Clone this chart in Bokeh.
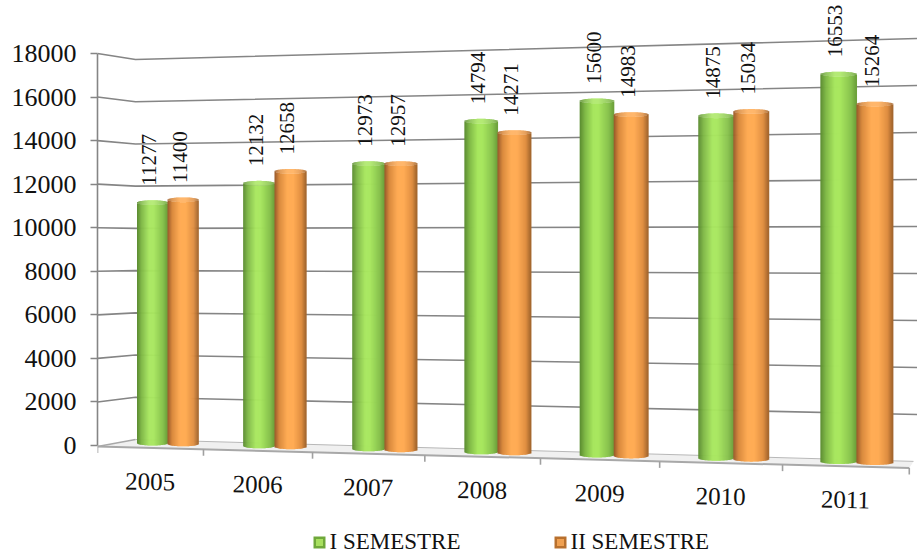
from bokeh.plotting import figure
from bokeh.models import Range1d, LinearAxis, FixedTicker
from bokeh.embed import file_html
from bokeh.resources import INLINE
from bokeh.core.properties import value
import numpy as np

years = ["2005", "2006", "2007", "2008", "2009", "2010", "2011"]
sem1 = [11277, 12132, 12973, 14794, 15600, 14875, 16553]
sem2 = [11400, 12658, 12957, 14271, 14983, 15034, 15264]
y_ticks = list(range(0, 18001, 2000))
series_names = ["I SEMESTRE", "II SEMESTRE"]

FONT = "Liberation Serif"
GRID = "#858585"
K = 18000 / 392.0


def Y(sy):
    """page pixel row -> value on the left axis"""
    return (445 - np.asarray(sy, dtype=float)) * K


def bar_x(t):
    return (167 + 103.3 * t) / (1 - 0.01346 * t)


def front_x(t):
    return (97 + 103.1 * t) / (1 - 0.01416 * t)


def front_y(x):
    return 446 + (x - 97) * 21.5 / 812


def back_y(x, v):
    return 439 + (x - 135) * 22 / 782 - v / 18000 * (380 + (x - 135) * 43 / 782)


def bar_base(x):
    return 445 + (x - 152) * 18.5 / 686


def bar_scale(x):
    return 0.02175 + (x - 152) * 0.00195 / 686


p = figure(width=917, height=554, output_backend="svg", toolbar_location=None,
           x_range=Range1d(97, 917), y_range=Range1d(float(Y(554)), float(Y(0))),
           x_axis_location=None, y_axis_location=None,
           min_border_left=97, min_border_right=0, min_border_top=0, min_border_bottom=0,
           outline_line_color=None, background_fill_color="white",
           styles={"position": "absolute", "left": "0px", "top": "0px"})
p.grid.visible = False

axis = LinearAxis(ticker=FixedTicker(ticks=y_ticks), bounds=(0, 18000),
                  axis_line_color=GRID, axis_line_width=1.6,
                  major_tick_line_color=GRID, major_tick_line_width=1.6,
                  major_tick_out=7, major_tick_in=0, minor_tick_line_color=None,
                  major_label_standoff=14, major_label_text_font=FONT,
                  major_label_text_font_size="26px", major_label_text_color="#111111")
p.add_layout(axis, "left")

# floor
fx = [97, 135, 913, front_x(7)]
fy = [front_y(97), back_y(135, 0), back_y(913, 0), front_y(front_x(7))]
p.patch(fx, Y(fy).tolist(), fill_color="#f0f0f0", line_color=None)
p.line([97, front_x(7)], Y([front_y(97), front_y(front_x(7))]).tolist(), line_color="#a8a8a8", line_width=2)
p.line([135, 913], Y([back_y(135, 0), back_y(913, 0)]).tolist(), line_color="#b8b8b8", line_width=1)
p.line([97, 135], Y([front_y(97), back_y(135, 0)]).tolist(), line_color="#a8a8a8", line_width=1.5)

# walls
wx, wy = [], []
for v in y_ticks[1:]:
    wx.append([97, 135, 917])
    wy.append(Y([445 - v / K, back_y(135, v), back_y(917, v)]).tolist())
p.multi_line(wx, wy, line_color=GRID, line_width=1.6)

# front-edge ticks
for i in range(0, 8):
    x0 = float(front_x(i))
    p.line([x0, x0], Y([front_y(x0), front_y(x0) + 6.5]).tolist(), line_color="#a0a0a0", line_width=1.6)

GREEN = [(-1, "#5a8a30"), (-.7, "#7fb846"), (-.2, "#a8e75f"), (.1, "#a8e75f"), (.7, "#88c24e"), (1, "#6c9f3a")]
ORANGE = [(-1, "#96582a"), (-.7, "#d98a3e"), (-.2, "#ffac55"), (.2, "#ffac55"), (.7, "#e08f42"), (1, "#a0642c")]


def shade(stops, u, lift=0.0):
    pos = [s[0] for s in stops]
    rgb = []
    for c in range(3):
        ch = [int(s[1][1 + 2 * c:3 + 2 * c], 16) for s in stops]
        val = np.interp(u, pos, ch)
        rgb.append(int(min(255, val + (255 - val) * lift)))
    return "#%02x%02x%02x" % tuple(rgb)


def cylinder(val, t0, t1, stops):
    xl, xr = float(bar_x(t0)), float(bar_x(t1))
    xc, hw = (xl + xr) / 2, (xr - xl) / 2
    base = bar_base(xc)
    top = base - val * bar_scale(xc)
    e = 2.4
    L, R, T, B, C = [], [], [], [], []
    n = int(hw * 2)
    for j in range(n):
        a = xl + (xr - xl) * j / n
        b = xl + (xr - xl) * (j + 1) / n
        u = ((a + b) / 2 - xc) / hw
        r = np.sqrt(max(0.0, 1 - u * u))
        L.append(a); R.append(b + 0.6)
        T.append(float(Y(top + e * (1 - r) + 2 * e * r)))
        B.append(float(Y(base + e * (r - 1))))
        C.append(shade(stops, u))
        L.append(a); R.append(b + 0.6)
        T.append(float(Y(top + e * (1 - r))))
        B.append(float(Y(top + e * (1 - r) + 2 * e * r)))
        C.append(shade(stops, u, 0.14))
    p.quad(left=L, right=R, top=T, bottom=B, fill_color=C, line_color=None)
    return xc, top


tx, ty, tt = [], [], []
for i, (a, b) in enumerate(zip(sem1, sem2)):
    for val, t0, t1, stops in ((a, i - 0.29, i, GREEN), (b, i, i + 0.29, ORANGE)):
        xc, top = cylinder(val, t0, t1, stops)
        tx.append(xc - 3)
        ty.append(float(Y(top - 14.5)))
        tt.append(str(val))

p.text(x=tx, y=ty, text=tt, angle=np.pi / 2, text_align="left", text_baseline="middle",
       text_font=value(FONT), text_font_size="21px", text_color="#111111")

# year labels
lx = [float(front_x(i + .5)) for i in range(len(years))]
ly = [float(Y(481 + (x - 149) * 18.0 / 695)) for x in lx]
p.text(x=lx, y=ly, text=years, text_align="center", text_baseline="middle", angle=-0.02,
       text_font=value(FONT), text_font_size="25px", text_color="#111111")

# legend
MARK = [(313, "#6fa83a", "#a8e05f"), (554, "#b8702e", "#f0a050")]
LEG_TX = [329, 570]
for (mx, c_out, c_in), tx0, name in zip(MARK, LEG_TX, series_names):
    p.quad(left=[mx], right=[mx + 12], top=[float(Y(536))], bottom=[float(Y(548))], fill_color=c_out, line_color=None)
    p.quad(left=[mx + 2.5], right=[mx + 9.5], top=[float(Y(538.5))], bottom=[float(Y(545.5))], fill_color=c_in, line_color=None)
    p.text(x=[tx0], y=[float(Y(541))], text=[name], text_align="left", text_baseline="middle",
           text_font=value(FONT), text_font_size="23px", text_color="#111111")

open("out.html", "w").write(file_html(p, INLINE))
